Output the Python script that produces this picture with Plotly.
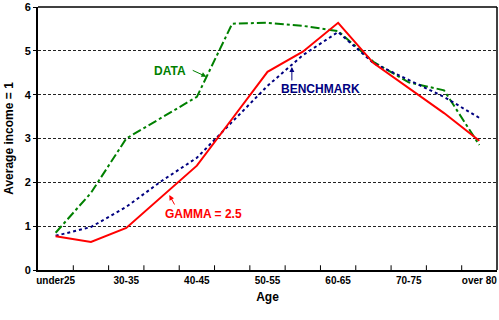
import plotly.graph_objects as go

ages = ["under25", "25-30", "30-35", "35-40", "40-45", "45-50", "50-55",
        "55-60", "60-65", "65-70", "70-75", "75-80", "over 80"]
tick_labels = ["under25", "", "30-35", "", "40-45", "", "50-55",
               "", "60-65", "", "70-75", "", "over 80"]

data_vals = [0.85, 1.76, 3.0, 3.47, 3.95, 5.62, 5.64, 5.57, 5.45, 4.75, 4.28, 4.1, 2.85]
benchmark_vals = [0.78, 0.98, 1.44, 2.03, 2.56, 3.38, 4.2, 4.9, 5.43, 4.72, 4.34, 3.95, 3.47]
gamma_vals = [0.77, 0.64, 0.96, 1.68, 2.38, 3.45, 4.52, 4.98, 5.64, 4.72, 4.15, 3.58, 2.95]

FONT = "Liberation Sans, Arial, sans-serif"
x_idx = list(range(len(ages)))

fig = go.Figure()
fig.add_trace(go.Scatter(x=x_idx, y=data_vals, mode="lines", name="DATA",
                         line=dict(color="#008000", width=2, dash="dashdot")))
fig.add_trace(go.Scatter(x=x_idx, y=benchmark_vals, mode="lines", name="BENCHMARK",
                         line=dict(color="#000080", width=2, dash="dot")))
fig.add_trace(go.Scatter(x=x_idx, y=gamma_vals, mode="lines", name="GAMMA = 2.5",
                         line=dict(color="#FF0000", width=2)))

def label(text, x, y, color):
    fig.add_annotation(x=x, y=y, text=text, showarrow=False, xref="x", yref="y",
                       font=dict(family=FONT, size=12, color=color, weight="bold"))

def arrow(x0, y0, x1, y1, color):
    fig.add_annotation(x=x1, y=y1, ax=x0, ay=y0, axref="x", ayref="y", xref="x", yref="y",
                       text="", showarrow=True, arrowhead=2, arrowsize=1, arrowwidth=1,
                       arrowcolor=color, standoff=0, startstandoff=0)

label("DATA", 3.25, 4.54, "#008000")
arrow(3.84, 4.57, 4.27, 4.41, "#008000")
label("BENCHMARK", 7.49, 4.13, "#000080")
arrow(6.69, 4.29, 6.69, 4.63, "#000080")
label("GAMMA = 2.5", 4.18, 1.28, "#FF0000")
arrow(3.39, 1.46, 3.22, 1.71, "#FF0000")

fig.update_layout(
    width=499, height=320,
    margin=dict(l=38, r=2, t=7, b=50),
    paper_bgcolor="white", plot_bgcolor="white",
    showlegend=False,
    font=dict(family=FONT, color="black"),
    xaxis=dict(
        range=[-0.5, 12.5], tickmode="array", tickvals=x_idx, ticktext=tick_labels,
        showgrid=False, zeroline=False, ticks="", showline=True, linecolor="black",
        linewidth=2, mirror=False, automargin=False,
        tickfont=dict(family=FONT, size=10, weight="bold", color="black"),
        title=dict(text="Age", font=dict(family=FONT, size=12, weight="bold"), standoff=8),
        fixedrange=True,
    ),
    yaxis=dict(
        range=[0, 6], tickmode="array", tickvals=[0, 1, 2, 3, 4, 5, 6],
        showgrid=True, gridcolor="#222222", griddash="3px,2px", gridwidth=1,
        zeroline=False, ticks="outside", ticklen=3, tickcolor="black",
        showline=True, linecolor="black", linewidth=2, automargin=False,
        tickfont=dict(family=FONT, size=11, weight="bold", color="black"),
        title=dict(text="Average income = 1", font=dict(family=FONT, size=12, weight="bold"), standoff=8),
        fixedrange=True,
    ),
)

# top and right frame lines, boundary tick marks
fig.add_shape(type="line", xref="paper", yref="paper", x0=0, x1=1, y0=1, y1=1,
              line=dict(color="black", width=1.5))
fig.add_shape(type="line", xref="paper", yref="paper", x0=1, x1=1, y0=0, y1=1,
              line=dict(color="black", width=1.5))
for b in range(1, 13):
    fig.add_shape(type="line", xref="x", yref="paper", x0=b - 0.5, x1=b - 0.5,
                  y0=0, y1=0.018, line=dict(color="black", width=1))

fig.write_html("out.html", config={"displayModeBar": False},
               post_script="document.body.style.margin='0';")
